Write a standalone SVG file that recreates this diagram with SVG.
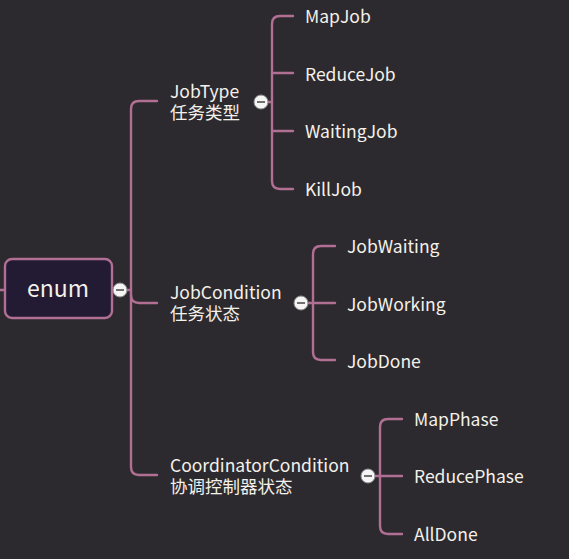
<svg xmlns="http://www.w3.org/2000/svg" width="569" height="559" viewBox="0 0 569 559">
<style>
.ln{fill:none;stroke:#b06f93;stroke-width:2.4;stroke-linecap:round}
.t{font-family:"Noto Sans CJK SC","Noto Sans",sans-serif;fill:#f4f1ea;font-size:17.5px}
.s{font-family:"Noto Sans CJK SC","Noto Sans",sans-serif;fill:#f4f1ea;font-size:17.5px}
.c{fill:#f5f5f5;stroke:#8a8a8a;stroke-width:1}
.m{stroke:#707070;stroke-width:2}
</style>
<rect width="569" height="559" fill="#2d2a2f"/>
<g id="connectors">
<path class="ln" d="M0,290 H5"/>
<path class="ln" d="M112,290 H131"/>
<path class="ln" d="M157,101 H139 Q131,101 131,109 V467 Q131,475 139,475 H157"/>
<path class="ln" d="M131,295 Q131,303 139,303 H157"/>
<path class="ln" d="M261,102 H272"/>
<path class="ln" d="M293,16 H280 Q272,16 272,24 V181 Q272,189 280,189 H293"/>
<path class="ln" d="M272,73 H293 M272,131 H293"/>
<path class="ln" d="M301,303 H313"/>
<path class="ln" d="M335,246 H321 Q313,246 313,254 V352 Q313,360 321,360 H335"/>
<path class="ln" d="M313,303 H335"/>
<path class="ln" d="M368,476 H380"/>
<path class="ln" d="M402,419 H388 Q380,419 380,427 V526 Q380,534 388,534 H402"/>
<path class="ln" d="M380,476 H402"/>
</g>
<g id="enum">
<rect x="5" y="259" width="107" height="59" rx="7" fill="#231a33" stroke="#b06f93" stroke-width="2.4"/>
<text x="58" y="297" text-anchor="middle" font-family="Noto Sans CJK SC,Noto Sans,sans-serif" font-size="23" fill="#f4f1ea">enum</text>
<circle class="c" cx="120" cy="290" r="7"/><path class="m" d="M116,290 H124"/>
</g>
<g id="jobtype">
<text class="s" x="170" y="98">JobType<tspan x="170" y="119">任务类型</tspan></text>
<circle class="c" cx="261" cy="102" r="7"/><path class="m" d="M257,102 H265"/>
</g>
<g id="mapjob"><text class="t" x="305" y="23">MapJob</text></g>
<g id="reducejob"><text class="t" x="305" y="81">ReduceJob</text></g>
<g id="waitingjob"><text class="t" x="305" y="138">WaitingJob</text></g>
<g id="killjob"><text class="t" x="305" y="196">KillJob</text></g>
<g id="jobcondition">
<text class="s" x="170" y="299">JobCondition<tspan x="170" y="320">任务状态</tspan></text>
<circle class="c" cx="301" cy="303" r="7"/><path class="m" d="M297,303 H305"/>
</g>
<g id="jobwaiting"><text class="t" x="347" y="253">JobWaiting</text></g>
<g id="jobworking"><text class="t" x="347" y="311">JobWorking</text></g>
<g id="jobdone"><text class="t" x="347" y="368">JobDone</text></g>
<g id="coordinatorcondition">
<text class="s" x="170" y="472">CoordinatorCondition<tspan x="170" y="493">协调控制器状态</tspan></text>
<circle class="c" cx="368" cy="476" r="7"/><path class="m" d="M364,476 H372"/>
</g>
<g id="mapphase"><text class="t" x="414" y="426">MapPhase</text></g>
<g id="reducephase"><text class="t" x="414" y="483">ReducePhase</text></g>
<g id="alldone"><text class="t" x="414" y="541">AllDone</text></g>
</svg>
